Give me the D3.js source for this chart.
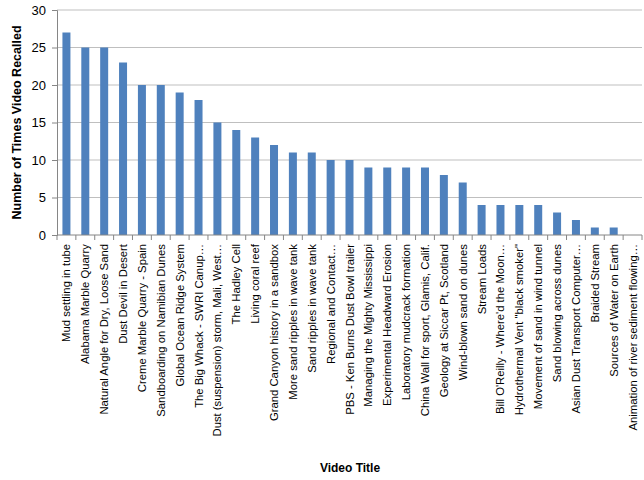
<!DOCTYPE html>
<meta charset="utf-8">
<style>
  body { margin: 0; background: #fff; }
  text { font-family: "Liberation Sans", sans-serif; fill: #000; }
  .grid line { stroke: #bfbfbf; }
  .axis path, .axis line { stroke: #868686; }
</style>
<svg width="644" height="480"></svg>
<script src="https://cdn.jsdelivr.net/npm/d3@7"></script>
<script>
  var titles = ["Mud settling in tube", "Alabama Marble Quarry", "Natural Angle for Dry, Loose Sand",
    "Dust Devil in Desert", "Creme Marble Quarry - Spain", "Sandboarding on Namibian Dunes",
    "Global Ocean Ridge System", "The Big Whack - SWRI Canup…", "Dust (suspension) storm, Mali, West…",
    "The Hadley Cell", "Living coral reef", "Grand Canyon history in a sandbox",
    "More sand ripples in wave tank", "Sand ripples in wave tank", "Regional and Contact…",
    "PBS - Ken Burns Dust Bowl trailer", "Managing the Mighty Mississippi", "Experimental Headward Erosion",
    "Laboratory mudcrack formation", "China Wall for sport, Glamis, Calif.", "Geology at Siccar Pt, Scotland",
    "Wind-blown sand on dunes", "Stream Loads", "Bill O'Reilly - Where'd the Moon…",
    "Hydrothermal Vent \"black smoker\"", "Movement of sand in wind tunnel", "Sand blowing across dunes",
    "Asian Dust Transport Computer…", "Braided Stream", "Sources of Water on Earth",
    "Animation of river sediment flowing…"];
  var recalled = [27, 25, 25, 23, 20, 20, 19, 18, 15, 14, 13, 12, 11, 11, 10, 10, 9, 9, 9, 9, 8, 7,
    4, 4, 4, 4, 3, 2, 1, 1, 0];
  var yTicks = [0, 5, 10, 15, 20, 25, 30];

  var svg = d3.select("svg");
  var pLeft = 57, pRight = 642, pTop = 10, pBottom = 235;

  var x = d3.scaleBand().domain(titles).range([pLeft, pRight]);
  var y = d3.scaleLinear().domain([0, 30]).range([pBottom, pTop]);

  // gridlines
  svg.append("g").attr("class", "grid")
    .selectAll("line").data(yTicks.slice(1)).enter().append("line")
    .attr("x1", pLeft).attr("x2", pRight)
    .attr("y1", function (d) { return y(d); }).attr("y2", function (d) { return y(d); });

  // bars
  var bw = 8;
  svg.append("g").selectAll("rect").data(recalled).enter().append("rect")
    .attr("x", function (d, i) { return x(titles[i]) + x.bandwidth() / 2 - bw / 2; })
    .attr("width", bw)
    .attr("y", function (d) { return y(d); })
    .attr("height", function (d) { return pBottom - y(d); })
    .attr("fill", "#4f81bd");

  // y axis
  var ya = svg.append("g").attr("class", "axis")
    .attr("transform", "translate(" + pLeft + ",0)")
    .call(d3.axisLeft(y).tickValues(yTicks).tickSize(5).tickPadding(6));
  ya.selectAll("text").style("font-size", "13px").style("fill", "#000");

  // x axis with ticks at category boundaries
  var xa = svg.append("g").attr("class", "axis");
  xa.append("line").attr("x1", pLeft).attr("x2", pRight).attr("y1", pBottom).attr("y2", pBottom);
  xa.selectAll(".bt").data(d3.range(titles.length + 1)).enter().append("line")
    .attr("x1", function (i) { return pLeft + i * x.step(); })
    .attr("x2", function (i) { return pLeft + i * x.step(); })
    .attr("y1", pBottom).attr("y2", pBottom + 5);
  xa.selectAll("text").data(titles).enter().append("text")
    .attr("transform", function (d) {
      return "translate(" + (x(d) + x.bandwidth() / 2 + 4) + "," + (pBottom + 9) + ") rotate(-90)";
    })
    .style("text-anchor", "end")
    .style("font-size", "11.3px")
    .text(function (d) { return d; });

  // axis titles
  svg.append("text")
    .attr("transform", "translate(21," + ((pTop + pBottom) / 2) + ") rotate(-90)")
    .style("text-anchor", "middle").style("font-weight", "bold").style("font-size", "12.5px")
    .text("Number of Times Video Recalled");
  svg.append("text")
    .attr("x", 350).attr("y", 472)
    .style("text-anchor", "middle").style("font-weight", "bold").style("font-size", "12px")
    .text("Video Title");
</script>
